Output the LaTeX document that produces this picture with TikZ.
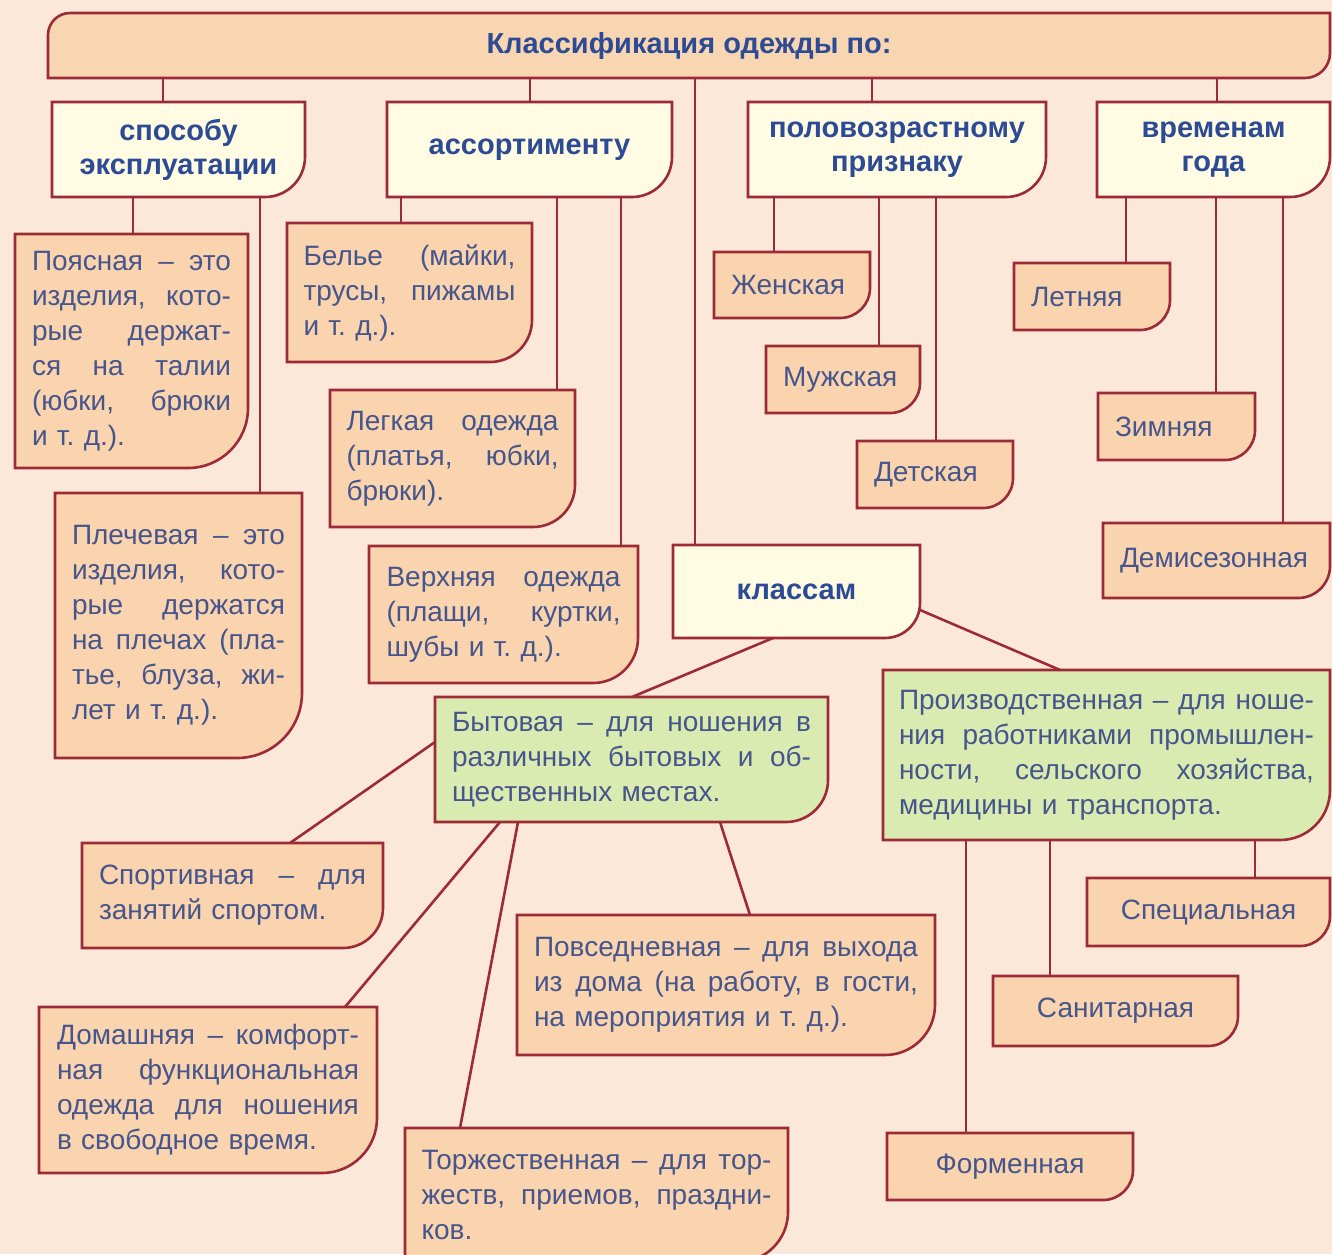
\documentclass[tikz,border=0pt]{standalone}
\usepackage{fontspec}
\setmainfont{Liberation Sans}
\usetikzlibrary{backgrounds}

\definecolor{pagebg}{HTML}{FCE8D9}
\definecolor{headfill}{HTML}{F9D6B2}
\definecolor{creamfill}{HTML}{FFFCE3}
\definecolor{peachfill}{HTML}{F9D4AE}
\definecolor{greenfill}{HTML}{DAEBB2}
\definecolor{edgered}{HTML}{9C2B37}
\definecolor{headblue}{HTML}{2C4B94}
\definecolor{textblue}{HTML}{46558C}

% one justified line of a box, \bw is set by the box
\newcommand{\jl}[1]{\makebox[\bw][s]{#1}}

\begin{document}
\frenchspacing
\begin{tikzpicture}[x=1pt, y=1pt,
    link/.style={draw=edgered, line width=2.6pt},
    boxedge/.style={draw=edgered, line width=2.6pt},
    basebox/.style={anchor=north west, inner sep=0pt, outer sep=0pt,
      text=textblue, font=\fontsize{28}{35}\selectfont},
    cbox/.style={basebox, align=left, text width=#1,
      execute at begin node={\def\bw{#1}}},
    headbox/.style={basebox, align=center, text=headblue,
      font=\fontsize{29}{34}\selectfont\bfseries},
    namebox/.style={basebox, align=center}]

  \useasboundingbox (0,0) rectangle (1332,-1254);

  % title bar and the four groups
  \node[headbox, minimum width=1282pt, minimum height=65pt] (head) at (48,-13)
    {Классификация одежды по:};
  \node[headbox, minimum width=253pt, minimum height=95pt] (sposob) at (52,-102)
    {способу\\эксплуатации};
  \node[headbox, minimum width=285pt, minimum height=95pt] (assort) at (387,-102)
    {ассортименту};
  \node[headbox, minimum width=298pt, minimum height=95pt] (polvoz) at (748,-102)
    {половозрастному\\признаку};
  \node[headbox, minimum width=233pt, minimum height=95pt] (vremen) at (1097,-102)
    {временам\\года};
  \node[headbox, minimum width=247pt, minimum height=93pt] (klass) at (673,-545)
    {классам};

  % by way of wearing
  \node[cbox=199pt, minimum width=233pt, minimum height=234pt] (pojas) at (15,-234)
    {\jl{Поясная \hfill – \hfill это}\\\jl{изделия, \hfill кото-}\\\jl{рые \hfill держат-}\\
     \jl{ся \hfill на \hfill талии}\\\jl{(юбки, \hfill брюки}\\и т. д.).};
  \node[cbox=213pt, minimum width=247pt, minimum height=265pt] (plech) at (55,-493)
    {\jl{Плечевая \hfill – \hfill это}\\\jl{изделия, \hfill кото-}\\\jl{рые \hfill держатся}\\
     \jl{на \hfill плечах \hfill (пла-}\\\jl{тье, \hfill блуза, \hfill жи-}\\лет и т. д.).};

  % by assortment
  \node[cbox=212pt, minimum width=245pt, minimum height=139pt] (belie) at (287,-223)
    {\jl{Белье \hfill (майки,}\\\jl{трусы, \hfill пижамы}\\и т. д.).};
  \node[cbox=212pt, minimum width=245pt, minimum height=137pt] (legk) at (330,-390)
    {\jl{Легкая \hfill одежда}\\\jl{(платья, \hfill юбки,}\\брюки).};
  \node[cbox=234pt, minimum width=269pt, minimum height=137pt] (verh) at (369,-546)
    {\jl{Верхняя \hfill одежда}\\\jl{(плащи, \hfill куртки,}\\шубы и т. д.).};

  % by sex and age
  \node[cbox=122pt, minimum width=156pt, minimum height=66pt] (zhen) at (714,-252) {Женская};
  \node[cbox=120pt, minimum width=154pt, minimum height=67pt] (muzh) at (766,-346) {Мужская};
  \node[cbox=122pt, minimum width=156pt, minimum height=67pt] (det) at (857,-441) {Детская};

  % by season
  \node[cbox=122pt, minimum width=156pt, minimum height=67pt] (leto) at (1014,-263) {Летняя};
  \node[cbox=123pt, minimum width=157pt, minimum height=67pt] (zima) at (1098,-393) {Зимняя};
  \node[cbox=193pt, minimum width=227pt, minimum height=75pt] (demi) at (1103,-523) {Демисезонная};

  % by class
  \node[cbox=359pt, minimum width=393pt, minimum height=125pt] (bytov) at (435,-697)
    {\jl{Бытовая \hfill – \hfill для \hfill ношения \hfill в}\\
     \jl{различных \hfill бытовых \hfill и \hfill об-}\\щественных местах.};
  \node[cbox=415pt, minimum width=447pt, minimum height=170pt] (proizv) at (883,-670)
    {\jl{Производственная \hfill – \hfill для \hfill ноше-}\\
     \jl{ния \hfill работниками \hfill промышлен-}\\
     \jl{ности, \hfill сельского \hfill хозяйства,}\\медицины и транспорта.};
  \node[cbox=267pt, minimum width=301pt, minimum height=105pt] (sport) at (82,-843)
    {\jl{Спортивная \hfill – \hfill для}\\занятий спортом.};
  \node[cbox=302pt, minimum width=338pt, minimum height=166pt] (domash) at (39,-1007)
    {\jl{Домашняя \hfill – \hfill комфорт-}\\\jl{ная \hfill функциональная}\\
     \jl{одежда \hfill для \hfill ношения}\\в свободное время.};
  \node[cbox=350pt, minimum width=383pt, minimum height=134pt] (torzh) at (405,-1128)
    {\jl{Торжественная \hfill – \hfill для \hfill тор-}\\
     \jl{жеств, \hfill приемов, \hfill праздни-}\\ков.};
  \node[cbox=384pt, minimum width=418pt, minimum height=140pt] (povsed) at (517,-915)
    {\jl{Повседневная \hfill – \hfill для \hfill выхода}\\
     \jl{из \hfill дома \hfill (на \hfill работу, \hfill в \hfill гости,}\\на мероприятия и т. д.).};
  \node[namebox, minimum width=243pt, minimum height=68pt] (spec) at (1087,-878) {Специальная};
  \node[namebox, minimum width=245pt, minimum height=70pt] (sanit) at (993,-976) {Санитарная};
  \node[namebox, minimum width=246pt, minimum height=67pt] (form) at (887,-1133) {Форменная};

  % the box outlines go behind the text
  \begin{scope}[on background layer]
    \fill[pagebg] (0,0) rectangle (1332,-1254);
    \filldraw[boxedge, fill=headfill] ([yshift=-22pt]head.north west)
      arc[start angle=180, end angle=90, radius=22pt] -- (head.north east)
      -- ([yshift=25pt]head.south east) arc[start angle=0, end angle=-90, radius=25pt]
      -- (head.south west) -- cycle;
    \foreach \n/\c/\r in {sposob/creamfill/40pt, assort/creamfill/40pt, polvoz/creamfill/40pt,
        vremen/creamfill/40pt, klass/creamfill/35pt,
        pojas/peachfill/60pt, plech/peachfill/65pt, belie/peachfill/42pt, legk/peachfill/42pt,
        verh/peachfill/45pt, zhen/peachfill/30pt, muzh/peachfill/30pt, det/peachfill/30pt,
        leto/peachfill/30pt, zima/peachfill/30pt, demi/peachfill/32pt,
        bytov/greenfill/42pt, proizv/greenfill/50pt,
        sport/peachfill/40pt, domash/peachfill/55pt, torzh/peachfill/50pt, povsed/peachfill/50pt,
        spec/peachfill/30pt, sanit/peachfill/30pt, form/peachfill/30pt}
      \filldraw[boxedge, fill=\c] (\n.north west) -- (\n.north east)
        -- ([yshift=\r]\n.south east) arc[start angle=0, end angle=-90, radius=\r]
        -- (\n.south west) -- cycle;
  \end{scope}

  % from the title bar
  \draw[link] (163,0 |- head.south) -- (163,0 |- sposob.north);
  \draw[link] (530,0 |- head.south) -- (530,0 |- assort.north);
  \draw[link] (695,0 |- head.south) -- (695,0 |- klass.north);
  \draw[link] (872,0 |- head.south) -- (872,0 |- polvoz.north);
  \draw[link] (1217,0 |- head.south) -- (1217,0 |- vremen.north);

  % down to the kinds
  \draw[link] (133,0 |- sposob.south) -- (133,0 |- pojas.north);
  \draw[link] (260,0 |- sposob.south) -- (260,0 |- plech.north);
  \draw[link] (401,0 |- assort.south) -- (401,0 |- belie.north);
  \draw[link] (557,0 |- assort.south) -- (557,0 |- legk.north);
  \draw[link] (621,0 |- assort.south) -- (621,0 |- verh.north);
  \draw[link] (774,0 |- polvoz.south) -- (774,0 |- zhen.north);
  \draw[link] (879,0 |- polvoz.south) -- (879,0 |- muzh.north);
  \draw[link] (936,0 |- polvoz.south) -- (936,0 |- det.north);
  \draw[link] (1126,0 |- vremen.south) -- (1126,0 |- leto.north);
  \draw[link] (1216,0 |- vremen.south) -- (1216,0 |- zima.north);
  \draw[link] (1283,0 |- vremen.south) -- (1283,0 |- demi.north);

  % classes
  \draw[link] (773,0 |- klass.south) -- (632,0 |- bytov.north);
  \draw[link] (klass.east |- 0,-610) -- (1060,0 |- proizv.north);
  \draw[link] (bytov.west |- 0,-742) -- (290,0 |- sport.north);
  \draw[link] (500,0 |- bytov.south) -- (345,0 |- domash.north);
  \draw[link] (518,0 |- bytov.south) -- (460,0 |- torzh.north);
  \draw[link] (720,0 |- bytov.south) -- (750,0 |- povsed.north);
  \draw[link] (966,0 |- proizv.south) -- (966,0 |- form.north);
  \draw[link] (1050,0 |- proizv.south) -- (1050,0 |- sanit.north);
  \draw[link] (1255,0 |- proizv.south) -- (1255,0 |- spec.north);

\end{tikzpicture}
\end{document}
